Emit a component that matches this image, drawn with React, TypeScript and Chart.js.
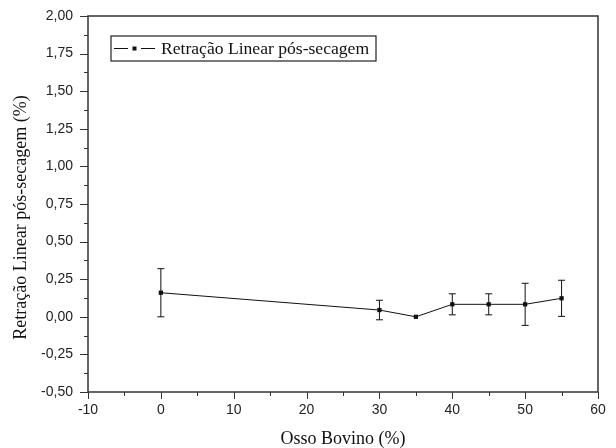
import React, { useEffect, useRef } from 'react';
import { Chart, registerables } from 'chart.js';

Chart.register(...registerables);

// ---- data ----
const xValues = [0, 30, 35, 40, 45, 50, 55];
const yValues = [0.16, 0.045, 0.0, 0.083, 0.083, 0.083, 0.123];
const yErrors = [0.16, 0.065, 0.0, 0.07, 0.07, 0.14, 0.12];
const seriesLabel = 'Retração Linear pós-secagem';
const xTitle = 'Osso Bovino (%)';
const yTitle = 'Retração Linear pós-secagem (%)';
const xMin = -10;
const xMax = 60;
const xStep = 10;
const yMin = -0.5;
const yMax = 2.0;
const yStep = 0.25;

const AXIS_COLOR = '#333';
const MARK_COLOR = '#111';
const SERIF = '18px "Liberation Serif", "Times New Roman", serif';
const SERIF_LEGEND = '17.6px "Liberation Serif", "Times New Roman", serif';

const frameTicksPlugin = {
  id: 'frameTicks',
  afterDatasetsDraw(chart: any) {
    const ctx = chart.ctx;
    const xs = chart.scales.x;
    const ys = chart.scales.y;
    ctx.save();
    ctx.strokeStyle = MARK_COLOR;
    ctx.lineWidth = 1;
    for (let i = 0; i < xValues.length; i++) {
      const e = yErrors[i];
      if (!e) continue;
      const px = xs.getPixelForValue(xValues[i]);
      const top = ys.getPixelForValue(yValues[i] + e);
      const bot = ys.getPixelForValue(yValues[i] - e);
      ctx.beginPath();
      ctx.moveTo(px, top);
      ctx.lineTo(px, bot);
      ctx.moveTo(px - 3.5, top);
      ctx.lineTo(px + 3.5, top);
      ctx.moveTo(px - 3.5, bot);
      ctx.lineTo(px + 3.5, bot);
      ctx.stroke();
    }
    ctx.restore();
  },
  afterDraw(chart: any) {
    const ctx = chart.ctx;
    const a = chart.chartArea;
    const xs = chart.scales.x;
    const ys = chart.scales.y;
    ctx.save();
    // frame
    ctx.strokeStyle = AXIS_COLOR;
    ctx.lineWidth = 1.5;
    ctx.strokeRect(a.left, a.top, a.right - a.left, a.bottom - a.top);
    // ticks
    ctx.lineWidth = 1;
    ctx.beginPath();
    for (let v = xMin; v <= xMax + 1e-9; v += xStep / 2) {
      const major = Math.abs((v - xMin) / xStep - Math.round((v - xMin) / xStep)) < 1e-6;
      const px = Math.round(xs.getPixelForValue(v)) + 0.5;
      ctx.moveTo(px, a.bottom);
      ctx.lineTo(px, a.bottom + (major ? 7 : 4));
    }
    for (let v = yMin; v <= yMax + 1e-9; v += yStep / 2) {
      const major = Math.abs((v - yMin) / yStep - Math.round((v - yMin) / yStep)) < 1e-6;
      const py = Math.round(ys.getPixelForValue(v)) + 0.5;
      ctx.moveTo(a.left, py);
      ctx.lineTo(a.left - (major ? 8 : 4), py);
    }
    ctx.stroke();

    // axis titles
    ctx.fillStyle = '#111';
    ctx.font = SERIF;
    ctx.textAlign = 'center';
    ctx.textBaseline = 'alphabetic';
    ctx.fillText(xTitle, (a.left + a.right) / 2, 444);
    ctx.save();
    ctx.translate(26, 217.5);
    ctx.rotate(-Math.PI / 2);
    ctx.fillText(yTitle, 0, 0);
    ctx.restore();

    // legend
    const lx = 111, ly = 36, lw = 265, lh = 25;
    ctx.lineWidth = 1.2;
    ctx.strokeStyle = '#222';
    ctx.strokeRect(lx, ly, lw, lh);
    const my = ly + lh / 2;
    ctx.strokeStyle = MARK_COLOR;
    ctx.lineWidth = 1;
    ctx.beginPath();
    ctx.moveTo(lx + 3, my);
    ctx.lineTo(lx + 17, my);
    ctx.moveTo(lx + 30, my);
    ctx.lineTo(lx + 44, my);
    ctx.stroke();
    ctx.fillStyle = MARK_COLOR;
    ctx.fillRect(lx + 21.5, my - 2, 4, 4);
    ctx.font = SERIF_LEGEND;
    ctx.textBaseline = 'middle';
    ctx.textAlign = 'left';
    ctx.fillStyle = '#111';
    ctx.fillText(seriesLabel, lx + 50, my + 0.5);
    ctx.restore();
  },
};

export default function App() {
  const ref = useRef<HTMLCanvasElement | null>(null);
  useEffect(() => {
    if (!ref.current) return;
    const data = xValues.map((x, i) => ({ x, y: yValues[i] }));
    const chart = new Chart(ref.current, {
      type: 'scatter',
      data: {
        datasets: [
          {
            label: seriesLabel,
            data,
            showLine: true,
            borderColor: MARK_COLOR,
            backgroundColor: MARK_COLOR,
            borderWidth: 1,
            pointStyle: 'rect',
            pointRadius: 3,
            pointBorderWidth: 0,
            tension: 0,
          },
        ],
      },
      options: {
        responsive: false,
        animation: false,
        layout: { padding: { left: 0, right: 18, top: 16, bottom: 0 } },
        plugins: { legend: { display: false }, tooltip: { enabled: false } },
        scales: {
          x: {
            type: 'linear',
            min: xMin,
            max: xMax,
            ticks: {
              stepSize: xStep,
              maxRotation: 0,
              padding: 3,
              color: '#222',
              font: { family: '"Liberation Sans", Arial', size: 14 },
            },
            grid: { display: false, drawTicks: true, tickLength: 7 },
            border: { display: false },
            title: { display: false },
            afterFit: (s: any) => {
              s.height = 56;
            },
          },
          y: {
            type: 'linear',
            min: yMin,
            max: yMax,
            ticks: {
              stepSize: yStep,
              padding: 7,
              color: '#222',
              font: { family: '"Liberation Sans", Arial', size: 14 },
              callback: (v: any) => Number(v).toFixed(2).replace('.', ','),
            },
            grid: { display: false, drawTicks: true, tickLength: 8 },
            border: { display: false },
            title: { display: false },
            afterFit: (s: any) => {
              s.width = 88;
            },
          },
        },
      },
      plugins: [frameTicksPlugin],
    });
    return () => chart.destroy();
  }, []);
  return (
    <div style={{ position: 'absolute', left: 0, top: 0, width: 616, height: 448, background: '#fff' }}>
      <canvas ref={ref} width={616} height={448} style={{ display: 'block' }} />
    </div>
  );
}
